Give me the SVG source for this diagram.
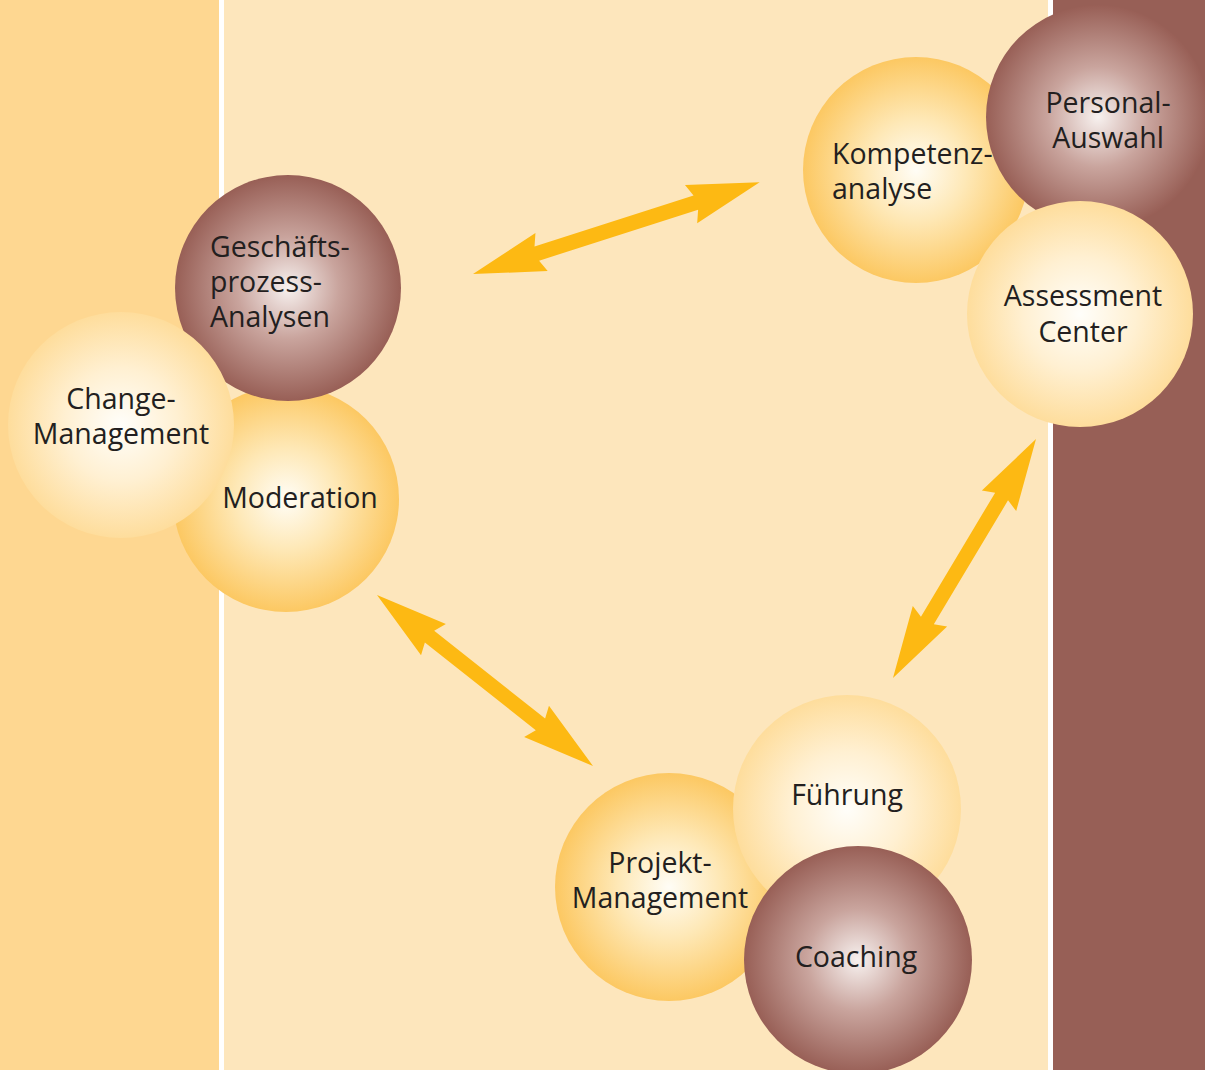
<svg xmlns="http://www.w3.org/2000/svg" width="1205" height="1070" viewBox="0 0 1205 1070">
<style>
.t{font-family:"Open Sans","Noto Sans","DejaVu Sans",sans-serif;font-size:28.5px;fill:#231F20}
.c{text-anchor:middle}
.arrow{fill:#FDB913}
</style>
<defs>
<radialGradient id="gOrange" cx="0.5" cy="0.5" r="0.5">
<stop offset="0" stop-color="#FFFDF6"/>
<stop offset="0.45" stop-color="#FEE8B6"/>
<stop offset="1" stop-color="#FCC862"/>
</radialGradient>
<radialGradient id="gLight" cx="0.5" cy="0.5" r="0.5">
<stop offset="0" stop-color="#FFFEFA"/>
<stop offset="0.5" stop-color="#FFF0D2"/>
<stop offset="1" stop-color="#FEDD9C"/>
</radialGradient>
<radialGradient id="gBrown" cx="0.5" cy="0.5" r="0.5">
<stop offset="0" stop-color="#F7F1EF"/>
<stop offset="0.45" stop-color="#C9A49D"/>
<stop offset="1" stop-color="#985F56"/>
</radialGradient>
</defs>
<g id="background">
<rect x="0" y="0" width="1205" height="1070" fill="#FFFFFF"/>
<rect x="0" y="0" width="219" height="1070" fill="#FED791"/>
<rect x="224" y="0" width="824" height="1070" fill="#FDE6BC"/>
<rect x="1053" y="0" width="152" height="1070" fill="#975F56"/>
</g>
<g id="connectors">
<path class="arrow" transform="translate(473,274) rotate(-17.77)" d="M0,0 L72,-20 L67,-7.5 L234,-7.5 L229,-20 L301,0 L229,20 L234,7.5 L67,7.5 L72,20 Z"/>
<path class="arrow" transform="translate(377,595) rotate(38.37)" d="M0,0 L72,-20 L67,-7.5 L208.5,-7.5 L203.5,-20 L275.5,0 L203.5,20 L208.5,7.5 L67,7.5 L72,20 Z"/>
<path class="arrow" transform="translate(1036,439) rotate(120.9)" d="M0,0 L72,-20 L67,-7.5 L211.5,-7.5 L206.5,-20 L278.5,0 L206.5,20 L211.5,7.5 L67,7.5 L72,20 Z"/>
</g>
<g id="node-moderation">
<circle cx="286" cy="499" r="113" fill="url(#gOrange)"/>
</g>
<g id="node-geschaeftsprozess">
<circle cx="288" cy="288" r="113" fill="url(#gBrown)"/>
</g>
<g id="node-change">
<circle cx="121" cy="425" r="113" fill="url(#gLight)"/>
</g>
<g id="node-kompetenz">
<circle cx="916" cy="170" r="113" fill="url(#gOrange)"/>
</g>
<g id="node-personal">
<circle cx="1098" cy="117" r="112" fill="url(#gBrown)"/>
</g>
<g id="node-assessment">
<circle cx="1080" cy="314" r="113" fill="url(#gLight)"/>
</g>
<g id="node-projekt">
<circle cx="669" cy="887" r="114" fill="url(#gOrange)"/>
</g>
<g id="node-fuehrung">
<circle cx="847" cy="809" r="114" fill="url(#gLight)"/>
</g>
<g id="node-coaching">
<circle cx="858" cy="960" r="114" fill="url(#gBrown)"/>
</g>
<g id="labels">
<text class="t" x="210" y="257">Geschäfts-</text>
<text class="t" x="210" y="292">prozess-</text>
<text class="t" x="210" y="327">Analysen</text>
<text class="t c" x="121" y="409">Change-</text>
<text class="t c" x="121" y="444">Management</text>
<text class="t c" x="300" y="508">Moderation</text>
<text class="t" x="832" y="164">Kompetenz-</text>
<text class="t" x="832" y="199">analyse</text>
<text class="t c" x="1108" y="113">Personal-</text>
<text class="t c" x="1108" y="148">Auswahl</text>
<text class="t c" x="1083" y="306">Assessment</text>
<text class="t c" x="1083" y="342">Center</text>
<text class="t c" x="847" y="805">Führung</text>
<text class="t c" x="660" y="873">Projekt-</text>
<text class="t c" x="660" y="908">Management</text>
<text class="t c" x="856" y="967">Coaching</text>
</g>
</svg>
